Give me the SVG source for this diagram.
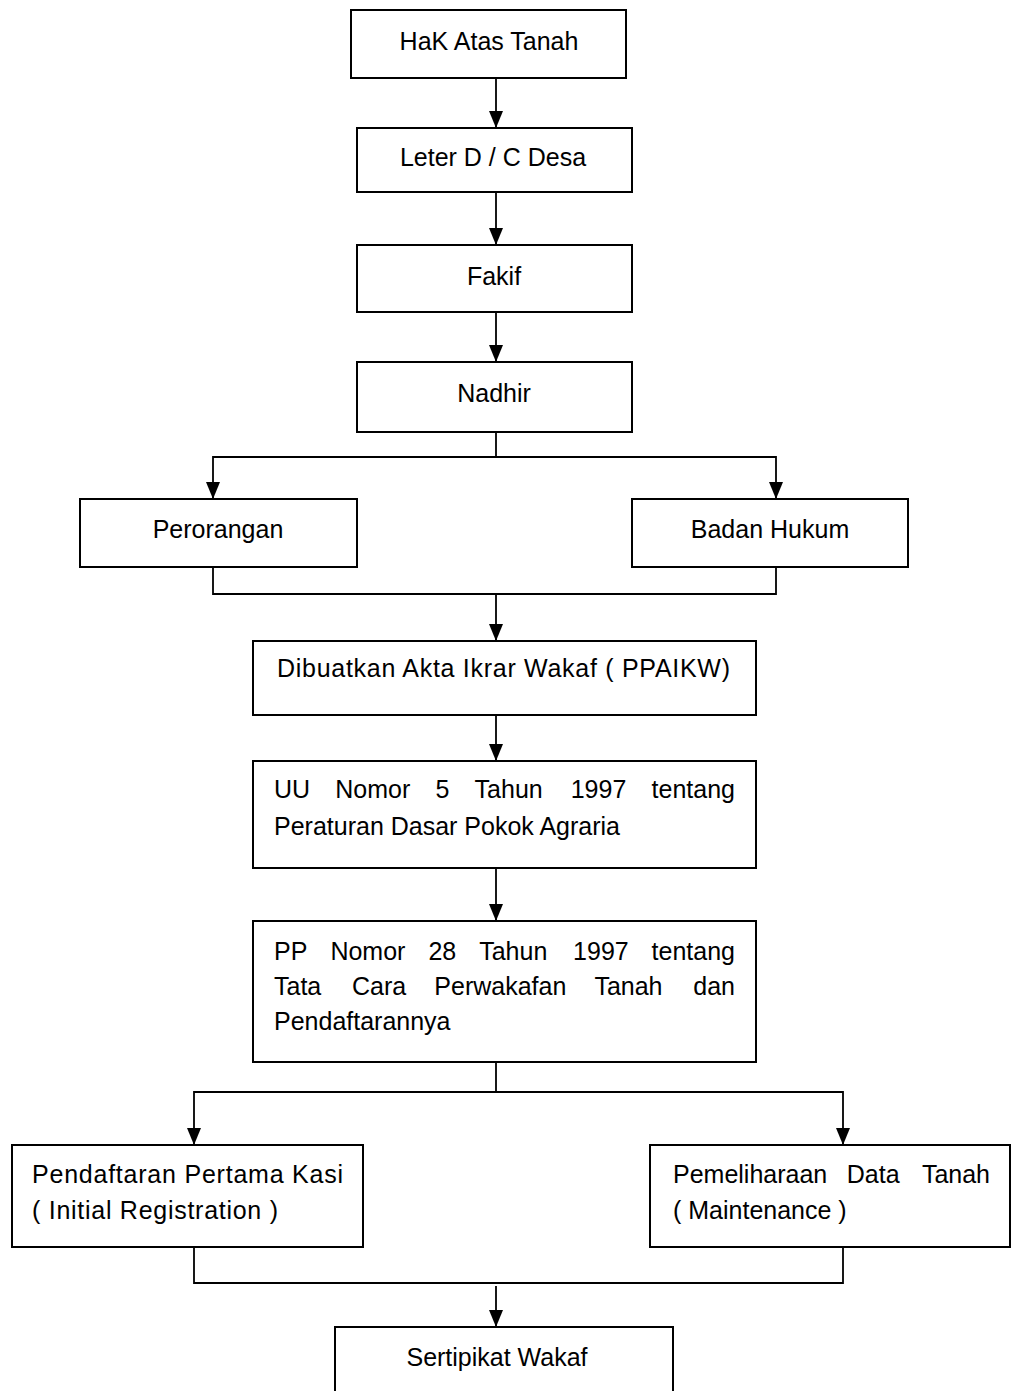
<svg xmlns="http://www.w3.org/2000/svg" width="1011" height="1391" viewBox="0 0 1011 1391">
<style>
.box{fill:#fff;stroke:#000;stroke-width:2}
.ln{fill:none;stroke:#000;stroke-width:1.8}
.ar{marker-end:url(#ah)}
text{font-family:"Liberation Sans",Arial,sans-serif;font-size:25px;fill:#000}
.c{text-anchor:middle}
.e{text-anchor:end}
</style>
<defs>
<marker id="ah" viewBox="0 0 17 14" refX="17" refY="7" markerWidth="17" markerHeight="14" markerUnits="userSpaceOnUse" orient="auto">
<path d="M0,0 L17,7 L0,14 z" fill="#000"/>
</marker>
</defs>
<rect width="1011" height="1391" fill="#fff"/>
<g id="connectors">
<line class="ln ar" x1="496" y1="78" x2="496" y2="128"/>
<line class="ln ar" x1="496" y1="192" x2="496" y2="245"/>
<line class="ln ar" x1="496" y1="312" x2="496" y2="362"/>
<polyline class="ln" points="496,432 496,457"/>
<polyline class="ln ar" points="496,457 213,457 213,499"/>
<polyline class="ln ar" points="496,457 776,457 776,499"/>
<polyline class="ln" points="213,567 213,594 776,594 776,567"/>
<line class="ln ar" x1="496" y1="594" x2="496" y2="641"/>
<line class="ln ar" x1="496" y1="715" x2="496" y2="761"/>
<line class="ln ar" x1="496" y1="868" x2="496" y2="921"/>
<polyline class="ln" points="496,1062 496,1092"/>
<polyline class="ln ar" points="496,1092 194,1092 194,1145"/>
<polyline class="ln ar" points="496,1092 843,1092 843,1145"/>
<polyline class="ln" points="194,1247 194,1283 843,1283 843,1247"/>
<line class="ln ar" x1="496" y1="1286" x2="496" y2="1327"/>
</g>
<g id="n1"><rect class="box" x="351" y="10" width="275" height="68"/><text class="c" x="489" y="50">HaK Atas Tanah</text></g>
<g id="n2"><rect class="box" x="357" y="128" width="275" height="64"/><text class="c" x="493" y="166">Leter D / C Desa</text></g>
<g id="n3"><rect class="box" x="357" y="245" width="275" height="67"/><text class="c" x="494" y="285">Fakif</text></g>
<g id="n4"><rect class="box" x="357" y="362" width="275" height="70"/><text class="c" x="494" y="402">Nadhir</text></g>
<g id="n5"><rect class="box" x="80" y="499" width="277" height="68"/><text class="c" x="218" y="538">Perorangan</text></g>
<g id="n6"><rect class="box" x="632" y="499" width="276" height="68"/><text class="c" x="770" y="538">Badan Hukum</text></g>
<g id="n7"><rect class="box" x="253" y="641" width="503" height="74"/><text x="277" y="677" textLength="453" lengthAdjust="spacing">Dibuatkan Akta Ikrar Wakaf ( PPAIKW)</text></g>
<g id="n8"><rect class="box" x="253" y="761" width="503" height="107"/>
<text y="798"><tspan x="274">UU</tspan><tspan x="335.3">Nomor</tspan><tspan x="435.5">5</tspan><tspan x="474.6">Tahun</tspan><tspan x="570.7">1997</tspan></text>
<text class="e" x="735" y="798">tentang</text>
<text x="274" y="835">Peraturan Dasar Pokok Agraria</text></g>
<g id="n9"><rect class="box" x="253" y="921" width="503" height="141"/>
<text y="960"><tspan x="274">PP</tspan><tspan x="330.4">Nomor</tspan><tspan x="428.4">28</tspan><tspan x="479.2">Tahun</tspan><tspan x="573.1">1997</tspan></text>
<text class="e" x="735" y="960">tentang</text>
<text y="995"><tspan x="274">Tata</tspan><tspan x="352">Cara</tspan><tspan x="434.3">Perwakafan</tspan><tspan x="594.4">Tanah</tspan></text>
<text class="e" x="735" y="995">dan</text>
<text x="274" y="1030">Pendaftarannya</text></g>
<g id="n10"><rect class="box" x="12" y="1145" width="351" height="102"/>
<text x="32" y="1183" textLength="311" lengthAdjust="spacing">Pendaftaran Pertama Kasi</text>
<text x="32" y="1219" textLength="246" lengthAdjust="spacing">( Initial Registration )</text></g>
<g id="n11"><rect class="box" x="650" y="1145" width="360" height="102"/>
<text y="1183"><tspan x="673">Pemeliharaan</tspan><tspan x="846.8">Data</tspan></text>
<text class="e" x="990" y="1183">Tanah</text>
<text x="673" y="1219">( Maintenance )</text></g>
<g id="n12"><rect class="box" x="335" y="1327" width="338" height="80"/><text class="c" x="497" y="1366">Sertipikat Wakaf</text></g>
</svg>
